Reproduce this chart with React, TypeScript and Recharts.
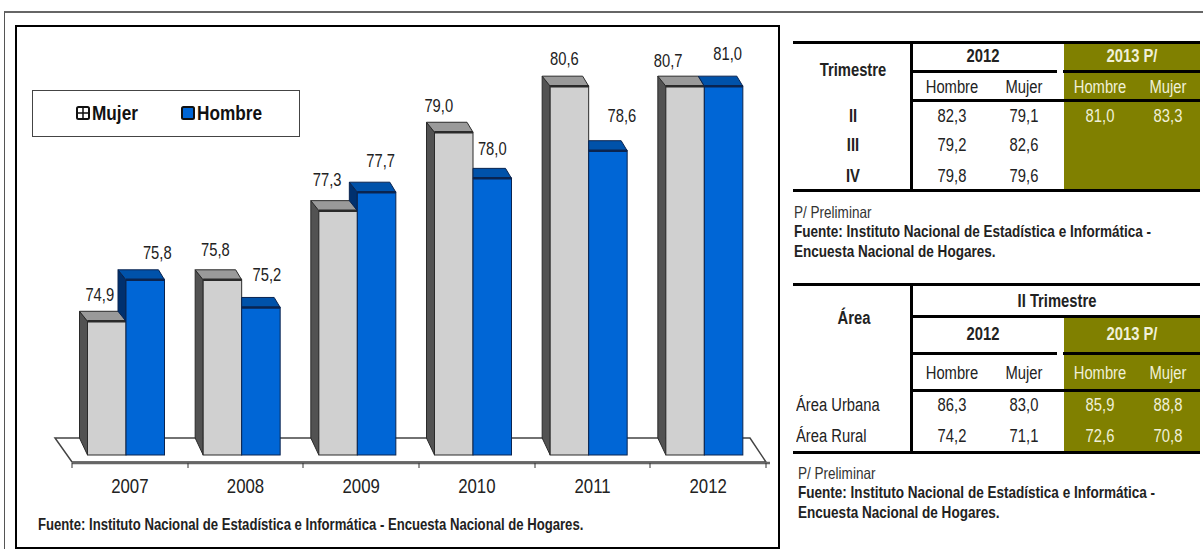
import React from "react"
import { Bar, BarChart, LabelList, Legend, XAxis, YAxis } from "recharts"

// chart values
const years = ["2007", "2008", "2009", "2010", "2011", "2012"]
const mujer = [74.9, 75.8, 77.3, 79.0, 80.6, 80.7]
const hombre = [75.8, 75.2, 77.7, 78.0, 78.6, 81.0]

// first table
const trimestres = ["II", "III", "IV"]
const trimHombre2012 = ["82,3", "79,2", "79,8"]
const trimMujer2012 = ["79,1", "82,6", "79,6"]
const trimHombre2013 = ["81,0", "", ""]
const trimMujer2013 = ["83,3", "", ""]

// second table
const areas = ["Área Urbana", "Área Rural"]
const areaHombre2012 = ["86,3", "74,2"]
const areaMujer2012 = ["83,0", "71,1"]
const areaHombre2013 = ["85,9", "72,6"]
const areaMujer2013 = ["88,8", "70,8"]

const chartData = years.map((year, i) => ({ year, mujer: mujer[i], hombre: hombre[i] }))

// no narrow face installed, so the text is squeezed to the width of Arial Narrow
const FONT = '"Liberation Sans", sans-serif'
const SQUEEZE = 0.82
const OLIVE = "#808000"
const AXIS_MIN = 72
const AXIS_CAP = 80 // the original axis stops at 80, taller bars get cut off there
const AXIS_MAX = 81.5

// hand placed labels, the original has them off center
const mujerNudge = [[-7, -27], [-7, -30], [-11, -31], [-15, -27], [-5, -28], [-17, -26]]
const hombreNudge = [[12, -27], [6, -33], [4, -32], [0, -30], [14, -35], [4, -33]]

const SHIFT = -3.5
const DX = 8
const DY = 10

const capped = (v: number) => Math.min(v, AXIS_CAP)

const Bar3D = (props: any) => {
  const { x, y, width, height, payload, series } = props
  const value = payload[series]
  const unit = height / (value - AXIS_MIN)
  const base = y + height
  const top = base - (capped(value) - AXIS_MIN) * unit
  const l = x + SHIFT
  const r = l + width
  const isMujer = series === "mujer"
  const front = isMujer ? "#d0d0d0" : "#0066d6"
  const roof = isMujer ? "#9a9a9a" : "#0052aa"
  const side = isMujer ? "#525252" : "#00306e"
  const edge = isMujer ? "#2a2a2a" : "#0a2450"

  let sideFace = null
  let roofLeft = l - DX
  if (isMujer) {
    sideFace = <polygon points={`${l - DX},${top - DY} ${l},${top} ${l},${base} ${l - DX},${base - 17}`} fill={side} stroke={edge} />
  } else {
    const other = base - (capped(payload.mujer) - AXIS_MIN) * unit
    if (other > top) {
      sideFace = <polygon points={`${l - DX},${top - DY} ${l},${top} ${l},${other} ${l - DX},${other - DY}`} fill={side} stroke={edge} />
    } else if (other === top) {
      roofLeft = l - 6
    } else {
      roofLeft = l
    }
  }

  return (
    <g>
      {sideFace}
      <polygon points={`${roofLeft},${top - DY} ${r - 6},${top - DY} ${r},${top} ${l},${top}`} fill={roof} stroke={edge} strokeLinejoin="round" />
      <rect x={l} y={top} width={width} height={base - top} fill={front} stroke={edge} />
      <line x1={l} y1={top} x2={r} y2={top} stroke={edge} strokeWidth={2.5} />
    </g>
  )
}

const BarLabel = (props: any) => {
  const { x, y, width, height, value, index, nudge } = props
  const unit = height / (value - AXIS_MIN)
  const top = y + height - (capped(value) - AXIS_MIN) * unit
  const cx = x + SHIFT + width / 2 + nudge[index][0]
  return (
    <text
      transform={`translate(${cx} ${top + nudge[index][1]}) scale(${SQUEEZE} 1)`}
      textAnchor="middle"
      dominantBaseline="central"
      fontFamily={FONT}
      fontSize={18}
      fill="#222"
    >
      {Number(value).toFixed(1).replace(".", ",")}
    </text>
  )
}

const YearTick = ({ x, y, payload }: any) => (
  <text
    transform={`translate(${x} ${y + 23}) scale(${SQUEEZE} 1)`}
    textAnchor="middle"
    dominantBaseline="central"
    fontFamily={FONT}
    fontSize={20.5}
    fill="#222"
  >
    {payload.value}
  </text>
)

const LegendIcon = ({ blue }: { blue: boolean }) => (
  <svg width={14} height={14} style={{ display: "block" }}>
    <rect x={1} y={1} width={12} height={12} rx={1.5} fill={blue ? "#0066d6" : "#fff"} stroke="#111" strokeWidth={2} />
    {!blue && <path d="M7 2V12M2 7H12" stroke="#111" strokeWidth={1.5} />}
  </svg>
)

const LegendBox = () => (
  <div
    style={{
      width: 268,
      height: 47,
      boxSizing: "border-box",
      border: "1px solid #444",
      position: "relative",
      fontFamily: FONT,
      fontWeight: 700,
      fontSize: 21,
      color: "#111",
    }}
  >
    {["Mujer", "Hombre"].map((name, i) => (
      <div key={name} style={{ position: "absolute", left: i === 0 ? 43 : 148, top: 10, display: "flex", alignItems: "center", gap: 2 }}>
        <LegendIcon blue={i === 1} />
        <span style={{ display: "inline-block", transform: `scaleX(${SQUEEZE})`, transformOrigin: "left center" }}>{name}</span>
      </div>
    ))}
  </div>
)

// floor of the 3d chart, sits behind the bars
const Floor = () => (
  <g>
    <polygon points="55,438 750,438 766,462 72,462" fill="#fff" stroke="#444" strokeWidth={1.5} />
    <line x1={72} y1={463} x2={770} y2={463} stroke="#666" strokeWidth={2.5} />
    {[72, 188, 303, 419, 535, 650, 766].map((x) => (
      <line key={x} x1={x} y1={463} x2={x} y2={468} stroke="#333" />
    ))}
  </g>
)

const Text = ({ x, y, w, bold, color, align, size, children }: any) => {
  const isLeft = align === "left"
  return (
    <div
      style={{
        position: "absolute",
        left: isLeft ? x : x - (w || 160) / 2,
        top: y - 12,
        width: isLeft ? undefined : w || 160,
        height: 24,
        lineHeight: "24px",
        textAlign: isLeft ? "left" : "center",
        fontFamily: FONT,
        fontSize: size || 18,
        fontWeight: bold ? 700 : 400,
        color: color || "#222",
        whiteSpace: "nowrap",
        transform: `scaleX(${SQUEEZE})`,
        transformOrigin: isLeft ? "left center" : "center center",
      }}
    >
      {children}
    </div>
  )
}

const Box = ({ x, y, w, h, color }: any) => (
  <div style={{ position: "absolute", left: x, top: y, width: w, height: h, background: color || "#000" }} />
)

const COLS = [952, 1024, 1100, 1168]
const LIGHT = "#f0f0d8"

function Notes({ x, y }: { x: number; y: number }) {
  return (
    <>
      <Text x={x} y={y} align="left" size={16.5} color="#333">P/ Preliminar</Text>
      <Text x={x} y={y + 19} align="left" size={16.5} bold color="#222">Fuente: Instituto Nacional de Estadística e Informática -</Text>
      <Text x={x} y={y + 39} align="left" size={16.5} bold color="#222">Encuesta Nacional de Hogares.</Text>
    </>
  )
}

function TableTrimestre() {
  const rows = [116, 145, 176]
  return (
    <>
      <Box x={1064} y={42} w={136} h={148} color={OLIVE} />
      <Box x={793} y={41} w={407} h={3} />
      <Box x={910} y={41} w={3} h={150} />
      <Box x={912} y={70} w={145} h={3} />
      <Box x={1063} y={70} w={137} h={3} />
      <Box x={912} y={99} w={288} h={3} />
      <Box x={793} y={189} w={407} h={3} />
      <Text x={853} y={70} bold>Trimestre</Text>
      <Text x={983} y={56} bold>2012</Text>
      <Text x={1132} y={56} bold color={LIGHT}>2013 P/</Text>
      <Text x={COLS[0]} y={87}>Hombre</Text>
      <Text x={COLS[1]} y={87}>Mujer</Text>
      <Text x={COLS[2]} y={87} color={LIGHT}>Hombre</Text>
      <Text x={COLS[3]} y={87} color={LIGHT}>Mujer</Text>
      {trimestres.map((t, i) => (
        <React.Fragment key={t}>
          <Text x={853} y={rows[i]} bold>{t}</Text>
          <Text x={COLS[0]} y={rows[i]}>{trimHombre2012[i]}</Text>
          <Text x={COLS[1]} y={rows[i]}>{trimMujer2012[i]}</Text>
          <Text x={COLS[2]} y={rows[i]} color={LIGHT}>{trimHombre2013[i]}</Text>
          <Text x={COLS[3]} y={rows[i]} color={LIGHT}>{trimMujer2013[i]}</Text>
        </React.Fragment>
      ))}
    </>
  )
}

function TableArea() {
  const rows = [405, 436]
  return (
    <>
      <Box x={1064} y={317} w={136} h={135} color={OLIVE} />
      <Box x={793} y={283} w={407} h={3} />
      <Box x={910} y={283} w={3} h={170} />
      <Box x={912} y={315} w={288} h={3} />
      <Box x={912} y={352} w={145} h={3} />
      <Box x={1063} y={352} w={137} h={3} />
      <Box x={912} y={389} w={288} h={3} />
      <Box x={793} y={451} w={407} h={3} />
      <Text x={854} y={318} bold>Área</Text>
      <Text x={1057} y={301} bold>II Trimestre</Text>
      <Text x={983} y={334} bold>2012</Text>
      <Text x={1132} y={334} bold color={LIGHT}>2013 P/</Text>
      <Text x={COLS[0]} y={373}>Hombre</Text>
      <Text x={COLS[1]} y={373}>Mujer</Text>
      <Text x={COLS[2]} y={373} color={LIGHT}>Hombre</Text>
      <Text x={COLS[3]} y={373} color={LIGHT}>Mujer</Text>
      {areas.map((a, i) => (
        <React.Fragment key={a}>
          <Text x={796} y={rows[i]} align="left">{a}</Text>
          <Text x={COLS[0]} y={rows[i]}>{areaHombre2012[i]}</Text>
          <Text x={COLS[1]} y={rows[i]}>{areaMujer2012[i]}</Text>
          <Text x={COLS[2]} y={rows[i]} color={LIGHT}>{areaHombre2013[i]}</Text>
          <Text x={COLS[3]} y={rows[i]} color={LIGHT}>{areaMujer2013[i]}</Text>
        </React.Fragment>
      ))}
    </>
  )
}

export default function App() {
  return (
    <div style={{ position: "absolute", left: 0, top: 0, width: 1203, height: 549, background: "#fff", overflow: "hidden" }}>
      {/* outer and inner frames */}
      <div style={{ position: "absolute", left: 4, top: 11, width: 1210, height: 560, borderLeft: "1.5px solid #555", borderTop: "2px solid #666" }} />
      <div style={{ position: "absolute", left: 15, top: 25, width: 761, height: 520, border: "2px solid #000" }} />

      <div style={{ position: "absolute", left: 0, top: 0 }}>
        <BarChart
          width={780}
          height={549}
          data={chartData}
          margin={{ top: 17, right: 14, bottom: 64, left: 72 }}
          barSize={38.5}
          barGap={0}
        >
          <Floor />
          <XAxis dataKey="year" height={30} axisLine={false} tickLine={false} tick={<YearTick />} interval={0} />
          <YAxis hide width={0} domain={[AXIS_MIN, AXIS_MAX]} />
          <Legend
            layout="horizontal"
            verticalAlign="middle"
            align="center"
            content={<LegendBox />}
            wrapperStyle={{ left: 32, top: 90, width: 268, height: 47 }}
          />
          <Bar dataKey="mujer" name="Mujer" fill="#cfcfcf" shape={<Bar3D series="mujer" />} isAnimationActive={false}>
            <LabelList dataKey="mujer" content={<BarLabel nudge={mujerNudge} />} />
          </Bar>
          <Bar dataKey="hombre" name="Hombre" fill="#0066d6" shape={<Bar3D series="hombre" />} isAnimationActive={false}>
            <LabelList dataKey="hombre" content={<BarLabel nudge={hombreNudge} />} />
          </Bar>
        </BarChart>
      </div>

      <Text x={38} y={525} align="left" size={16} bold>Fuente: Instituto Nacional de Estadística e Informática - Encuesta Nacional de Hogares.</Text>

      <TableTrimestre />
      <Notes x={794} y={212} />
      <TableArea />
      <Notes x={798} y={473} />
    </div>
  )
}
